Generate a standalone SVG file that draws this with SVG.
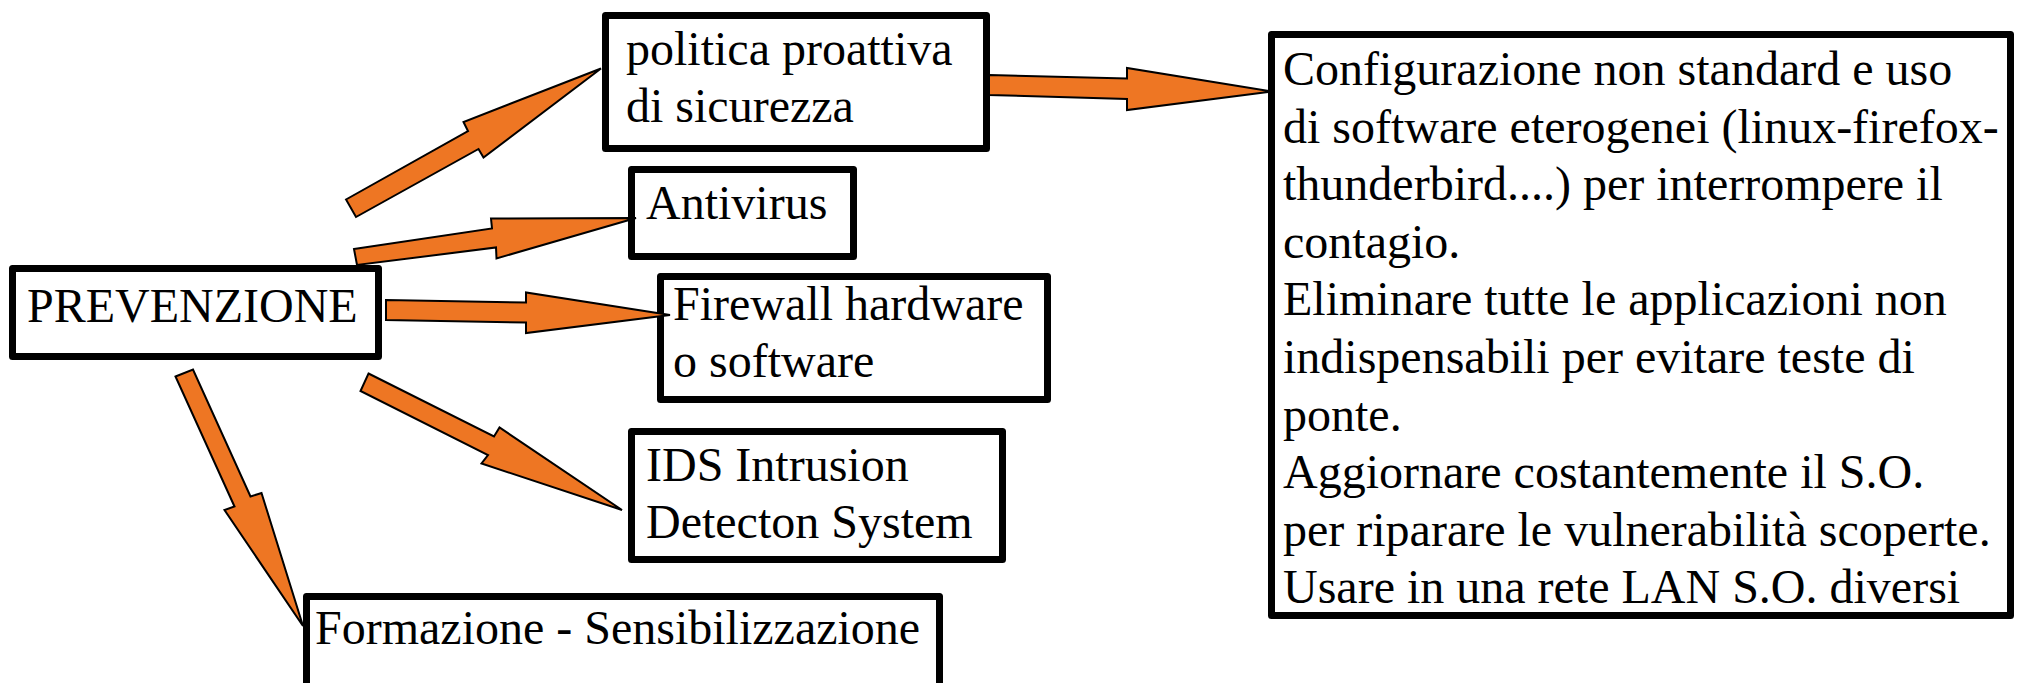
<svg xmlns="http://www.w3.org/2000/svg" width="2017" height="683" viewBox="0 0 2017 683">
  <style>
    .box { fill: #ffffff; stroke: #000000; stroke-width: 7; stroke-linejoin: round; }
    .lbl { font-family: "Liberation Serif", "Times New Roman", serif; font-size: 48px; fill: #000000; }
    .arrow { fill: #EE7623; stroke: #000000; stroke-width: 2; stroke-linejoin: miter; }
  </style>
  <rect width="2017" height="683" fill="#ffffff"/>

  <g id="node-prevenzione">
    <rect class="box" x="12.5" y="268.5" width="366" height="88"/>
    <text class="lbl" x="27" y="322">PREVENZIONE</text>
  </g>

  <g id="node-politica">
    <rect class="box" x="605.5" y="15.5" width="381" height="133"/>
    <text class="lbl" x="626" y="65">politica proattiva</text>
    <text class="lbl" x="626" y="122">di sicurezza</text>
  </g>

  <g id="node-antivirus">
    <rect class="box" x="631.5" y="169.5" width="222" height="87"/>
    <text class="lbl" x="646" y="219">Antivirus</text>
  </g>

  <g id="node-firewall">
    <rect class="box" x="660.5" y="276.5" width="387" height="123"/>
    <text class="lbl" x="673" y="320">Firewall hardware</text>
    <text class="lbl" x="673" y="377">o software</text>
  </g>

  <g id="node-ids">
    <rect class="box" x="631.5" y="431.5" width="371" height="128"/>
    <text class="lbl" x="646" y="481">IDS Intrusion</text>
    <text class="lbl" x="646" y="538">Detecton System</text>
  </g>

  <g id="node-formazione">
    <rect class="box" x="306.5" y="596.5" width="633" height="100"/>
    <text class="lbl" x="315" y="644">Formazione - Sensibilizzazione</text>
  </g>

  <g id="node-misure">
    <rect class="box" x="1271.5" y="34.5" width="739" height="581"/>
    <text class="lbl" x="1283" y="85">Configurazione non standard e uso</text>
    <text class="lbl" x="1283" y="142.6">di software eterogenei (linux-firefox-</text>
    <text class="lbl" x="1283" y="200.2">thunderbird....) per interrompere il</text>
    <text class="lbl" x="1283" y="257.8">contagio.</text>
    <text class="lbl" x="1283" y="315.4">Eliminare tutte le applicazioni non</text>
    <text class="lbl" x="1283" y="373">indispensabili per evitare teste di</text>
    <text class="lbl" x="1283" y="430.6">ponte.</text>
    <text class="lbl" x="1283" y="488.2">Aggiornare costantemente il S.O.</text>
    <text class="lbl" x="1283" y="545.8">per riparare le vulnerabilità scoperte.</text>
    <text class="lbl" x="1283" y="603.4">Usare in una rete LAN S.O. diversi</text>
  </g>

  <g id="connectors">
    <!-- PREVENZIONE to politica proattiva -->
    <polygon class="arrow" points="346,199.5 468,131 463.5,122 601,68.5 483.5,157.5 478.5,149 356,217"/>
    <!-- PREVENZIONE to Antivirus -->
    <polygon class="arrow" points="354,249 492,228.5 491,218.5 636,218 496.5,258.5 496,247.5 357,265"/>
    <!-- PREVENZIONE to Firewall -->
    <polygon class="arrow" points="386,300 526,302.5 526,292.5 670,315 526,333 526,322.5 386,320"/>
    <!-- PREVENZIONE to IDS -->
    <polygon class="arrow" points="368.5,373.5 494,436.5 499.5,427.5 622,510 481.5,463.5 488,455 360.5,391"/>
    <!-- PREVENZIONE to Formazione -->
    <polygon class="arrow" points="175.5,376.5 193,369.5 250.5,496.5 261.5,493 303,626 224.5,510 234.5,506.5"/>
    <!-- politica proattiva to the list of measures -->
    <polygon class="arrow" points="989,75 1127,78.5 1127,68 1272,91.5 1127,110 1127,99 989,95"/>
  </g>
</svg>
